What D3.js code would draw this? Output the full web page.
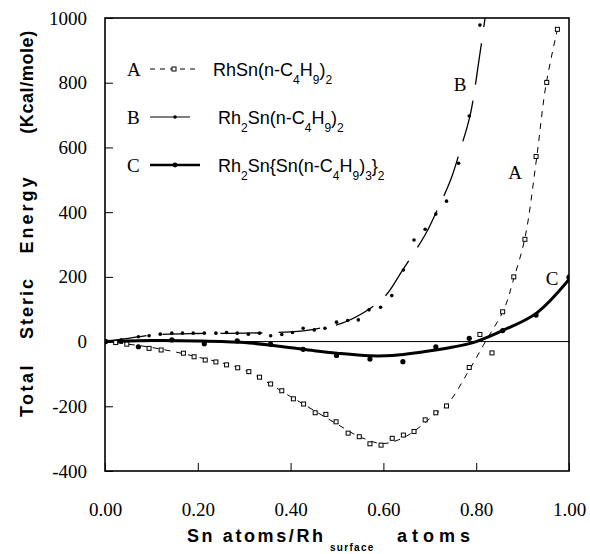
<!DOCTYPE html>
<html>
<head>
<meta charset="utf-8">
<script src="https://cdn.jsdelivr.net/npm/d3@7"></script>
<style>
body { margin: 0; background: #fff; }
svg { display: block; }
.serif { font-family: "Liberation Serif", "Times New Roman", serif; }
.sans { font-family: "Liberation Sans", Arial, sans-serif; }
</style>
</head>
<body>
<div id="chart"></div>
<script>
'use strict';

// measured points, [x, y]
var pointsA = [[0,0],[0.023,-3],[0.047,-8],[0.095,-21],[0.121,-26],[0.169,-36],[0.192,-47],[0.216,-57],
  [0.239,-63],[0.262,-72],[0.286,-81],[0.310,-93],[0.333,-110],[0.357,-131],[0.381,-152],[0.406,-177],
  [0.428,-193],[0.453,-220],[0.476,-225],[0.498,-248],[0.524,-283],[0.548,-294],[0.571,-316],[0.595,-320],
  [0.619,-299],[0.643,-289],[0.666,-278],[0.690,-242],[0.713,-220],[0.736,-199],[0.785,-80],[0.808,22],
  [0.834,-35],[0.857,92],[0.881,200],[0.905,316],[0.929,572],[0.952,801],[0.975,965]];

var pointsB = [[0,0],[0.035,4],[0.072,15],[0.095,18],[0.119,23],[0.144,26],[0.167,26],[0.190,26],[0.214,26],
  [0.239,26],[0.262,28],[0.285,26],[0.309,23],[0.333,26],[0.357,18],[0.381,22],[0.404,28],[0.427,41],
  [0.451,36],[0.474,41],[0.499,60],[0.523,65],[0.546,67],[0.569,98],[0.594,106],[0.618,142],[0.643,221],
  [0.666,314],[0.690,347],[0.713,394],[0.736,434],[0.762,551],[0.785,697],[0.808,978]];

var pointsC = [[0,0],[0.035,2],[0.072,-16],[0.144,5],[0.214,-7],[0.285,2],[0.357,-8],[0.427,-24],
  [0.499,-43],[0.571,-54],[0.642,-62],[0.713,-16],[0.785,10],[0.857,34],[0.929,82],[1.0,199]];

// fitted curves as drawn in the figure
var fitA = [[0,0],[0.1,-18],[0.2,-48],[0.3,-88],[0.4,-170],[0.5,-255],[0.55,-295],[0.6,-315],[0.65,-292],
  [0.7,-238],[0.74,-190],[0.78,-100],[0.82,0],[0.86,100],[0.88,190],[0.905,320],[0.93,565],[0.95,790],[0.975,965]];
var fitB = [[0,0],[0.05,10],[0.1,20],[0.2,25],[0.3,26],[0.4,30],[0.45,38],[0.52,62],[0.6,135],[0.64,218],
  [0.69,330],[0.71,388],[0.745,500],[0.765,590],[0.787,700],[0.807,880],[0.825,1060]];
var fitC = [[0,0],[0.1,3],[0.2,2],[0.3,-3],[0.38,-15],[0.45,-28],[0.5,-36],[0.57,-44],[0.62,-43],
  [0.68,-33],[0.75,-17],[0.8,0],[0.86,36],[0.93,88],[1.0,192]];

var xTicks = [0, 0.2, 0.4, 0.6, 0.8, 1.0];
var yTicks = [-400, -200, 0, 200, 400, 600, 800, 1000];

var legendKeys = ["A", "B", "C"];
var legendFormulas = [
  [["RhSn(n-C",0],["4",1],["H",0],["9",1],[")",0],["2",1]],
  [["Rh",0],["2",1],["Sn(n-C",0],["4",1],["H",0],["9",1],[")",0],["2",1]],
  [["Rh",0],["2",1],["Sn{Sn(n-C",0],["4",1],["H",0],["9",1],[")",0],["3",1],["}",0],["2",1]]
];

var W = 590, H = 554;
var x = d3.scaleLinear().domain([0, 1]).range([105, 569]);
var y = d3.scaleLinear().domain([-400, 1000]).range([471, 18]);

var svg = d3.select("#chart").append("svg")
  .attr("width", W).attr("height", H);

svg.append("clipPath").attr("id", "plot")
  .append("rect").attr("x", 105).attr("y", 18).attr("width", 464).attr("height", 453);

// zero line
svg.append("line")
  .attr("x1", x(0)).attr("x2", x(1)).attr("y1", y(0)).attr("y2", y(0))
  .attr("stroke", "#000").attr("stroke-width", 1);

// frame
svg.append("rect")
  .attr("x", 105).attr("y", 18).attr("width", 464).attr("height", 453)
  .attr("fill", "none").attr("stroke", "#000").attr("stroke-width", 1.6);

// axes
var xAxis = svg.append("g").attr("transform", "translate(0,471)")
  .call(d3.axisBottom(x).tickValues(xTicks).tickSize(-8).tickFormat(d3.format(".2f")));
xAxis.select(".domain").remove();
xAxis.selectAll("text").attr("class", "serif").attr("font-size", 19)
  .attr("fill", "#000").attr("y", 0).attr("dy", 45);

var yAxis = svg.append("g").attr("transform", "translate(105,0)")
  .call(d3.axisLeft(y).tickValues(yTicks).tickSize(-8).tickPadding(18)
    .tickFormat(function(d) { return String(d); }));
yAxis.select(".domain").remove();
yAxis.selectAll("text").attr("class", "serif").attr("font-size", 19).attr("fill", "#000");
svg.selectAll(".tick line").attr("stroke", "#000").attr("stroke-width", 1);

// lines
var line = d3.line()
  .x(function(d) { return x(d[0]); })
  .y(function(d) { return y(d[1]); })
  .curve(d3.curveCatmullRom);

var plot = svg.append("g").attr("clip-path", "url(#plot)");

plot.append("path").datum(fitA).attr("d", line)
  .attr("fill", "none").attr("stroke", "#000").attr("stroke-width", 1)
  .attr("stroke-dasharray", "6,6");
plot.append("path").datum(fitB).attr("d", line)
  .attr("fill", "none").attr("stroke", "#000").attr("stroke-width", 1.3)
  .attr("stroke-dasharray", "42,16");
plot.append("path").datum(fitC).attr("d", line)
  .attr("fill", "none").attr("stroke", "#000").attr("stroke-width", 3);

// markers
plot.selectAll(".ptA").data(pointsA).enter().append("rect")
  .attr("class", "ptA")
  .attr("x", function(d) { return x(d[0]) - 2; })
  .attr("y", function(d) { return y(d[1]) - 2; })
  .attr("width", 4).attr("height", 4)
  .attr("fill", "#fff").attr("stroke", "#000").attr("stroke-width", 1);

plot.selectAll(".ptB").data(pointsB).enter().append("circle")
  .attr("class", "ptB")
  .attr("cx", function(d) { return x(d[0]); })
  .attr("cy", function(d) { return y(d[1]); })
  .attr("r", 1.8).attr("fill", "#000");

plot.selectAll(".ptC").data(pointsC).enter().append("circle")
  .attr("class", "ptC")
  .attr("cx", function(d) { return x(d[0]); })
  .attr("cy", function(d) { return y(d[1]); })
  .attr("r", 2.6).attr("fill", "#000");

// LEGEND
var legendY = [69, 117, 165];
var legend = svg.selectAll(".leg").data(legendKeys).enter().append("g")
  .attr("class", "leg")
  .attr("transform", function(d, i) { return "translate(0," + legendY[i] + ")"; });

legend.append("text").attr("class", "serif").attr("font-size", 19)
  .attr("x", 127).attr("y", 6.5).text(function(d) { return d; });

legend.append("line")
  .attr("x1", 150).attr("y1", 0).attr("y2", 0)
  .attr("x2", function(d, i) { return [198, 190, 200][i]; })
  .attr("stroke", "#000")
  .attr("stroke-width", function(d, i) { return [1, 1.2, 2.6][i]; })
  .attr("stroke-dasharray", function(d, i) { return i === 0 ? "5,5" : null; });

legend.filter(function(d, i) { return i === 0; }).append("rect")
  .attr("x", 172).attr("y", -2).attr("width", 4).attr("height", 4)
  .attr("fill", "#fff").attr("stroke", "#000");
legend.filter(function(d, i) { return i > 0; }).append("circle")
  .attr("cx", 175).attr("cy", 0)
  .attr("r", function(d, i) { return i === 0 ? 1.8 : 2.4; }).attr("fill", "#000");

legend.append("text").attr("class", "sans").attr("font-size", 18)
  .attr("x", function(d, i) { return i === 0 ? 213 : 218; }).attr("y", 7)
  .each(function(d, i) {
    var t = d3.select(this);
    var prev = 0;
    legendFormulas[i].forEach(function(seg) {
      var dy = seg[1] ? (prev ? 0 : 8) : (prev ? -8 : 0);
      t.append("tspan").attr("dy", dy)
        .attr("font-size", seg[1] ? 12 : 18)
        .text(seg[0]);
      prev = seg[1];
    });
  });

// curve labels
var curveLabels = [["B", 460, 91], ["A", 515, 179], ["C", 552, 285]];
svg.selectAll(".clab").data(curveLabels).enter().append("text")
  .attr("class", "serif clab").attr("font-size", 19).attr("text-anchor", "middle")
  .attr("x", function(d) { return d[1]; }).attr("y", function(d) { return d[2]; })
  .text(function(d) { return d[0]; });

// AXIS TITLES
var yWords = [["Total", 390, 2.5], ["Steric", 308, 2], ["Energy", 214, 3], ["(Kcal/mole)", 82, 0.6]];
svg.selectAll(".ytitle").data(yWords).enter().append("text")
  .attr("class", "sans ytitle").attr("font-size", 18).attr("font-weight", "bold")
  .attr("text-anchor", "middle")
  .attr("letter-spacing", function(d) { return d[2]; })
  .attr("transform", function(d) { return "translate(33," + d[1] + ") rotate(-90)"; })
  .text(function(d) { return d[0]; });

var xt = svg.append("g").attr("class", "sans").attr("font-weight", "bold");
xt.append("text").attr("x", 187).attr("y", 542).attr("font-size", 18)
  .attr("letter-spacing", 2.6).text("Sn atoms/Rh");
xt.append("text").attr("x", 330).attr("y", 551).attr("font-size", 10)
  .attr("letter-spacing", 1.3).text("surface");
xt.append("text").attr("x", 397).attr("y", 542).attr("font-size", 18)
  .attr("letter-spacing", 5).text("atoms");
</script>
</body>
</html>
